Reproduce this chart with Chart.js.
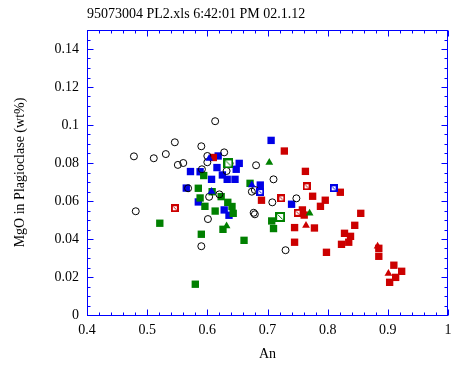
<!DOCTYPE html>
<html>
<head>
<meta charset="utf-8">
<script src="https://cdn.jsdelivr.net/npm/chart.js@4"></script>
<style>
html,body{margin:0;padding:0;background:#fff;}
</style>
</head>
<body>
<canvas id="anChart" width="464" height="367"></canvas>
<script>
// values: An (x) and MgO wt% (y) per marker type
const circleAn  = [0.478,0.511,0.531,0.546,0.551,0.560,0.590,0.481,0.568,0.591,0.600,0.600,0.601,0.613,0.628,0.637,0.632,0.681,0.710,0.603,0.620,0.674,0.679,0.708,0.748,0.677,0.679,0.590,0.730];
const circleMgO = [0.0835,0.0825,0.0847,0.0909,0.0790,0.0800,0.0888,0.0546,0.0667,0.0767,0.0837,0.0804,0.0505,0.1020,0.0856,0.0798,0.0758,0.0788,0.0714,0.0622,0.0635,0.0649,0.0658,0.0593,0.0614,0.0538,0.0530,0.0362,0.0341];

const blueSqAn  = [0.572,0.565,0.585,0.588,0.706,0.618,0.653,0.616,0.648,0.607,0.625,0.633,0.646,0.688,0.628,0.636,0.740];
const blueSqMgO = [0.0755,0.0668,0.0595,0.0754,0.0919,0.0837,0.0798,0.0776,0.0767,0.0714,0.0737,0.0714,0.0714,0.0684,0.0553,0.0525,0.0583];

const greenSqAn  = [0.594,0.585,0.588,0.596,0.521,0.608,0.623,0.634,0.641,0.613,0.643,0.671,0.707,0.710,0.626,0.590,0.661,0.580];
const greenSqMgO = [0.0734,0.0667,0.0616,0.0572,0.0483,0.0649,0.0623,0.0593,0.0571,0.0547,0.0535,0.0693,0.0495,0.0455,0.0451,0.0425,0.0393,0.0162];

const redSqAn  = [0.610,0.728,0.763,0.690,0.775,0.796,0.788,0.758,0.761,0.745,0.778,0.745,0.798,0.821,0.855,0.845,0.828,0.838,0.823,0.835,0.885,0.885,0.910,0.923,0.913,0.903];
const redSqMgO = [0.0829,0.0863,0.0756,0.0604,0.0625,0.0604,0.0572,0.0553,0.0526,0.0460,0.0458,0.0383,0.0330,0.0646,0.0535,0.0472,0.0430,0.0414,0.0372,0.0383,0.0351,0.0309,0.0262,0.0230,0.0198,0.0172];

const greenTriAn  = [0.703,0.770,0.632];
const greenTriMgO = [0.0803,0.0535,0.0468];

const redTriAn  = [0.764,0.883,0.901];
const redTriMgO = [0.0471,0.0362,0.0219];

const blueTriAn  = [0.607,0.674,0.603];
const blueTriMgO = [0.0650,0.0684,0.0824];

const redBoxAn  = [0.546,0.765,0.723,0.750];
const redBoxMgO = [0.0562,0.0677,0.0614,0.0538];

const greenBoxAn  = [0.635,0.721];
const greenBoxMgO = [0.0798,0.0516];

const blueBoxAn  = [0.688,0.810];
const blueBoxMgO = [0.0647,0.0667];

const xTicks = [0.4,0.5,0.6,0.7,0.8,0.9,1];
const yTicks = [0,0.02,0.04,0.06,0.08,0.1,0.12,0.14];

const titleText = "95073004 PL2.xls 6:42:01 PM 02.1.12";

const axisBlue = "#0000ff";
const red = "#cc0000";
const green = "#008000";
const blue = "#0000e6";
const serif = "'Liberation Serif', 'Times New Roman', serif";

function toPoints(xs, ys){
  return xs.map((x, i) => ({x: x, y: ys[i]}));
}

// open square with a diagonal stroke
function boxMarker(color, size){
  const c = document.createElement("canvas");
  c.width = size; c.height = size;
  const g = c.getContext("2d");
  g.fillStyle = "#fff";
  g.fillRect(0, 0, size, size);
  g.strokeStyle = color;
  g.lineWidth = 2;
  g.strokeRect(1, 1, size - 2, size - 2);
  g.lineWidth = 1;
  g.beginPath();
  g.moveTo(2.5, 2.5);
  g.lineTo(size - 2.5, size - 2.5);
  g.stroke();
  return c;
}

const frameTicks = {
  id: "frameTicks",
  beforeDatasetsDraw(chart){
    const {ctx, chartArea: a, scales: {x, y}} = chart;
    const L = Math.round(a.left) + 0.5, R = Math.round(a.right) - 0.5;
    const T = Math.round(a.top) + 0.5, B = Math.round(a.bottom) + 0.5;
    ctx.save();
    ctx.strokeStyle = axisBlue;
    ctx.lineWidth = 1;
    ctx.strokeRect(L, T, R - L, B - T);
    ctx.beginPath();
    for (let i = 0; i <= 30; i++){
      const px = Math.round(x.getPixelForValue(0.4 + i * 0.02)) + 0.5;
      const len = i % 5 === 0 ? 6 : 3;
      ctx.moveTo(px, B); ctx.lineTo(px, B - len);
      ctx.moveTo(px, T); ctx.lineTo(px, T + len);
    }
    for (let i = 0; i <= 30; i++){
      const py = Math.round(y.getPixelForValue(i * 0.005)) + 0.5;
      const len = i % 4 === 0 ? 6 : 3;
      ctx.moveTo(L, py); ctx.lineTo(L + len, py);
      ctx.moveTo(R, py); ctx.lineTo(R - len, py);
    }
    ctx.stroke();
    ctx.restore();
  },
  afterDraw(chart){
    // title sits flush with the left edge of the plot box
    const {ctx, chartArea: a} = chart;
    ctx.save();
    ctx.fillStyle = "#000";
    ctx.font = "14px " + serif;
    ctx.textAlign = "left";
    ctx.textBaseline = "middle";
    ctx.fillText(titleText, Math.round(a.left), 14.5);
    ctx.restore();
  }
};

new Chart(document.getElementById("anChart"), {
  type: "scatter",
  data: {
    datasets: [
      {label: "red box", data: toPoints(redBoxAn, redBoxMgO), pointStyle: boxMarker(red, 8), order: 1},
      {label: "green box", data: toPoints(greenBoxAn, greenBoxMgO), pointStyle: boxMarker(green, 10), order: 1},
      {label: "blue box", data: toPoints(blueBoxAn, blueBoxMgO), pointStyle: boxMarker(blue, 8), order: 1},
      {label: "green tri", data: toPoints(greenTriAn, greenTriMgO), pointStyle: "triangle", radius: 4.5, backgroundColor: green, borderColor: green, borderWidth: 0, order: 2},
      {label: "red tri", data: toPoints(redTriAn, redTriMgO), pointStyle: "triangle", radius: 4.5, backgroundColor: red, borderColor: red, borderWidth: 0, order: 2},
      {label: "blue tri", data: toPoints(blueTriAn, blueTriMgO), pointStyle: "triangle", radius: 4.5, backgroundColor: blue, borderColor: blue, borderWidth: 0, order: 2},
      {label: "circles", data: toPoints(circleAn, circleMgO), pointStyle: "circle", radius: 3.5, backgroundColor: "rgba(0,0,0,0)", borderColor: "#000", borderWidth: 1, order: 3},
      {label: "green sq", data: toPoints(greenSqAn, greenSqMgO), pointStyle: "rect", radius: 5.2, backgroundColor: green, borderWidth: 0, order: 4},
      {label: "red sq", data: toPoints(redSqAn, redSqMgO), pointStyle: "rect", radius: 5.2, backgroundColor: red, borderWidth: 0, order: 5},
      {label: "blue sq", data: toPoints(blueSqAn, blueSqMgO), pointStyle: "rect", radius: 5.2, backgroundColor: blue, borderWidth: 0, order: 6}
    ]
  },
  options: {
    responsive: false,
    animation: false,
    clip: false,
    layout: {padding: {top: 30, right: 16, bottom: 0, left: 0}},
    plugins: {
      legend: {display: false},
      tooltip: {enabled: false},
      title: {display: false}
    },
    scales: {
      x: {
        type: "linear",
        min: 0.4,
        max: 1,
        afterBuildTicks: s => { s.ticks = xTicks.map(v => ({value: v})); },
        afterFit: s => { s.height = 52; },
        grid: {display: false, drawTicks: false},
        border: {display: false},
        ticks: {color: "#000", padding: 7, font: {family: serif, size: 14}, callback: v => String(+v.toFixed(2))},
        title: {display: true, text: "An", color: "#000", font: {family: serif, size: 14}, padding: {top: 0, bottom: 4.6}}
      },
      y: {
        type: "linear",
        min: 0,
        max: 0.15,
        afterBuildTicks: s => { s.ticks = yTicks.map(v => ({value: v})); },
        afterFit: s => { s.width = 87; },
        grid: {display: false, drawTicks: false},
        border: {display: false},
        ticks: {color: "#000", padding: 8, font: {family: serif, size: 14}, callback: v => String(+v.toFixed(2))},
        title: {display: true, text: "MgO in Plagioclase (wt%)", color: "#000", font: {family: serif, size: 14}, padding: {top: 11.6, bottom: 0}}
      }
    }
  },
  plugins: [frameTicks]
});
</script>
</body>
</html>
